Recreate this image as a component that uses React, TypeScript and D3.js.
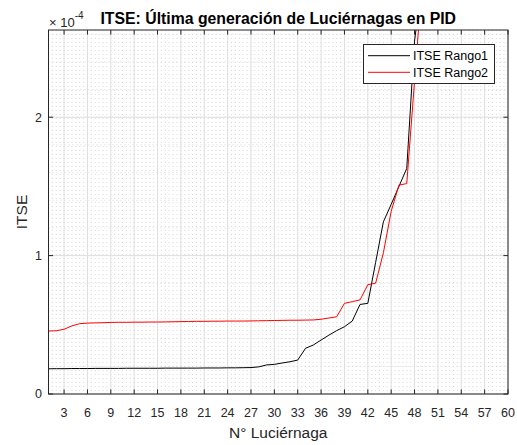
import React from "react";
import * as d3 from "d3";

const nLuciernaga: number[] = d3.range(1, 61);
// ITSE values in units of 1e-4
const itseRango1: number[] = [
  0.182, 0.183, 0.183, 0.184, 0.184, 0.184, 0.185, 0.185, 0.185, 0.185,
  0.186, 0.186, 0.186, 0.186, 0.186, 0.187, 0.187, 0.187, 0.187, 0.187,
  0.188, 0.188, 0.188, 0.189, 0.189, 0.19, 0.191, 0.196, 0.21, 0.214,
  0.224, 0.233, 0.245, 0.33, 0.354, 0.39, 0.425, 0.458, 0.486, 0.527,
  0.647, 0.655, 0.95, 1.244, 1.37, 1.5, 1.63, 2.55, 3.0, 3.4,
  3.9, 4.4, 5.0, 5.7, 6.5, 7.4, 8.5, 9.8, 11.5, 14.0,
];
const itseRango2: number[] = [
  0.455, 0.457, 0.468, 0.492, 0.508, 0.512, 0.514, 0.515, 0.517, 0.518,
  0.518, 0.519, 0.519, 0.52, 0.52, 0.521, 0.522, 0.523, 0.524, 0.525,
  0.525, 0.526, 0.526, 0.527, 0.527, 0.527, 0.528, 0.529, 0.53, 0.531,
  0.532, 0.533, 0.533, 0.534, 0.535, 0.54, 0.549, 0.558, 0.655, 0.667,
  0.68, 0.79, 0.8, 1.02, 1.32, 1.51, 1.52, 2.26, 3.0, 3.5,
  4.1, 4.7, 5.3, 6.0, 6.8, 7.7, 8.8, 10.0, 11.6, 13.5,
];
const xTicks: number[] = d3.range(3, 61, 3);
const yTicks: number[] = [0, 1, 2];
const seriesNames: string[] = ["ITSE Rango1", "ITSE Rango2"];
const seriesColors: string[] = ["#000000", "#ff0000"];

const W = 517;
const H = 445;
const L = 48.5;
const R = 508;
const T = 30;
const B = 394;
const FONT = "'Liberation Sans', Arial, Helvetica, sans-serif";
const AX = "#262626";

export default function App() {
  const x = d3.scaleLinear().domain([1, 60]).range([L, R]);
  const y = d3.scaleLinear().domain([0, 2.63]).range([B, T]);
  const line = d3
    .line<number>()
    .x((_, i) => x(nLuciernaga[i]))
    .y((d) => y(d));
  const minorX = d3.range(1, 60.01, 0.5);
  const minorY = d3.range(0, 2.63, 0.2);
  const tl = 4.6;
  const series = [itseRango1, itseRango2];
  const lgX = 363.5, lgY = 44.5, lgW = 131, lgH = 39;
  return (
    <svg
      width={W}
      height={H}
      style={{ position: "absolute", left: 0, top: 0, background: "#fff" }}
      fontFamily={FONT}
    >
      <rect x={0} y={0} width={W} height={H} fill="#fff" />
      <defs>
        <clipPath id="plot">
          <rect x={L} y={T} width={R - L} height={B - T} />
        </clipPath>
      </defs>
      {/* minor grid */}
      <g stroke="#c8c8c8" strokeWidth={0.7} strokeDasharray="1,3">
        {minorX.map((v, i) => (
          <line key={"mx" + i} x1={x(v)} x2={x(v)} y1={T} y2={B} />
        ))}
        {minorY.map((v, i) => (
          <line key={"my" + i} x1={L} x2={R} y1={y(v)} y2={y(v)} />
        ))}
      </g>
      {/* major grid */}
      <g stroke="#dfdfdf" strokeWidth={1}>
        {xTicks.map((v) => (
          <line key={"gx" + v} x1={x(v)} x2={x(v)} y1={T} y2={B} />
        ))}
        {yTicks.map((v) => (
          <line key={"gy" + v} x1={L} x2={R} y1={y(v)} y2={y(v)} />
        ))}
      </g>
      {/* lines */}
      <g clipPath="url(#plot)" fill="none">
        {series.map((s, i) => (
          <path key={i} d={line(s) || ""} stroke={seriesColors[i]} strokeWidth={1} />
        ))}
      </g>
      {/* axis box and ticks */}
      <rect x={L} y={T} width={R - L} height={B - T} fill="none" stroke={AX} strokeWidth={1} />
      <g stroke={AX} strokeWidth={1}>
        {xTicks.map((v) => (
          <g key={"tx" + v}>
            <line x1={x(v)} x2={x(v)} y1={B} y2={B - tl} />
            <line x1={x(v)} x2={x(v)} y1={T} y2={T + tl} />
          </g>
        ))}
        {yTicks.map((v) => (
          <g key={"ty" + v}>
            <line x1={L} x2={L + tl} y1={y(v)} y2={y(v)} />
            <line x1={R} x2={R - tl} y1={y(v)} y2={y(v)} />
          </g>
        ))}
      </g>
      <g fill={AX} fontSize={12.5}>
        {xTicks.map((v) => (
          <text key={"lx" + v} x={x(v)} y={417} textAnchor="middle">
            {v}
          </text>
        ))}
        {yTicks.map((v) => (
          <text key={"ly" + v} x={42} y={y(v)} dy="0.35em" textAnchor="end">
            {v}
          </text>
        ))}
      </g>
      <text x={49} y={26.5} fontSize={13} fill={AX}>
        × 10
        <tspan dy={-7.5} fontSize={10}>-4</tspan>
      </text>
      <text x={(L + R) / 2} y={24} fontSize={15.8} fontWeight="bold" textAnchor="middle" fill="#000">
        ITSE: Última generación de Luciérnagas en PID
      </text>
      <text x={(L + R) / 2} y={438} fontSize={15.5} textAnchor="middle" fill={AX}>
        N° Luciérnaga
      </text>
      <text
        transform={`translate(26.5,${(T + B) / 2}) rotate(-90)`}
        fontSize={15.5}
        textAnchor="middle"
        fill={AX}
      >
        ITSE
      </text>
      {/* legend */}
      <rect x={lgX} y={lgY} width={lgW} height={lgH} fill="#fff" stroke={AX} strokeWidth={1} />
      {seriesNames.map((n, i) => {
        const yy = 55.7 + i * 16.6;
        return (
          <g key={n}>
            <line x1={368} x2={410} y1={yy} y2={yy} stroke={seriesColors[i]} strokeWidth={1} />
            <text x={413} y={yy} dy="0.35em" fontSize={12.5} fill="#000">
              {n}
            </text>
          </g>
        );
      })}
    </svg>
  );
}
